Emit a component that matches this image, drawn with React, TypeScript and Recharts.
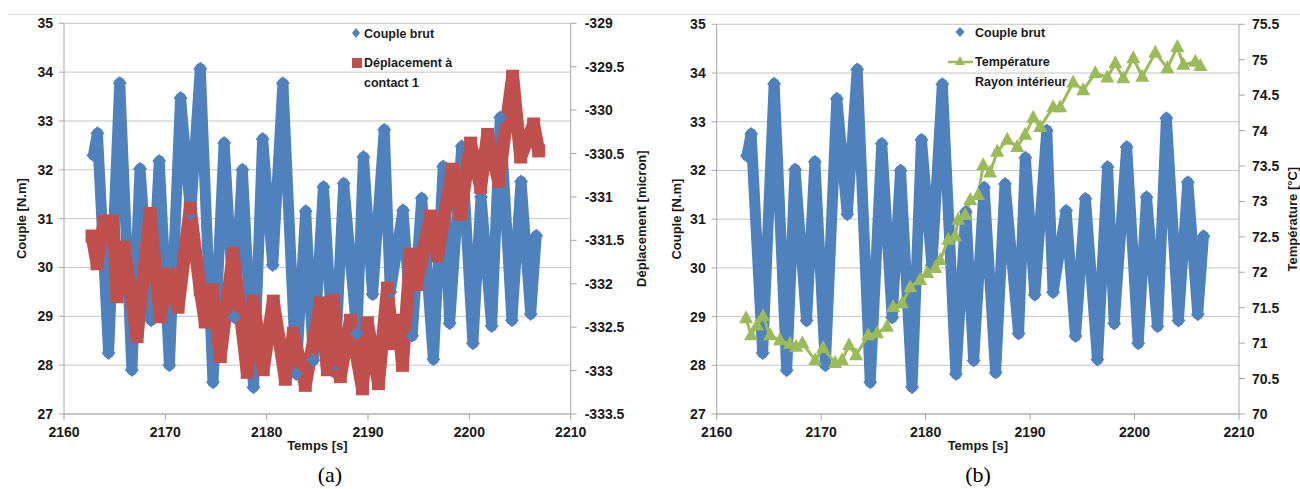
import { CartesianGrid, ComposedChart, Legend, Line, XAxis, YAxis } from "recharts";

const BLUE = "#4F81BD";
const RED = "#C0504D";
const GREEN = "#9BBB59";
const GRID = "#c4c4c4";
const AXIS = "#a6a6a6";
const FONT = "'Liberation Sans', Arial, sans-serif";

const timeTicks = [2160, 2170, 2180, 2190, 2200, 2210];
const coupleTicks = [27, 28, 29, 30, 31, 32, 33, 34, 35];
const depTicks = [-333.5, -333, -332.5, -332, -331.5, -331, -330.5, -330, -329.5, -329];
const tempTicks = [70, 70.5, 71, 71.5, 72, 72.5, 73, 73.5, 74, 74.5, 75, 75.5];

// couple brut [N.m], extremes of each oscillation
const coupleT = [
  2162.9, 2163.3, 2164.4, 2165.5, 2166.7, 2167.5, 2168.6, 2169.4, 2170.4, 2171.5,
  2172.5, 2173.45, 2174.7, 2175.8, 2176.8, 2177.6, 2178.7, 2179.6, 2180.6, 2181.6,
  2182.9, 2183.85, 2184.6, 2185.6, 2186.7, 2187.6, 2188.9, 2189.55, 2190.45, 2191.6,
  2192.2, 2193.45, 2194.35, 2195.3, 2196.45, 2197.42, 2198.05, 2199.25, 2200.35, 2201.15,
  2202.2, 2203.05, 2204.2, 2205.1, 2206.05, 2206.6,
];
const coupleV = [
  32.3, 32.75, 28.25, 33.78, 27.9, 32.02, 28.92, 32.18, 28.0, 33.47,
  31.1, 34.07, 27.65, 32.55, 28.98, 32.0, 27.55, 32.63, 30.05, 33.77,
  27.82, 31.15, 28.1, 31.65, 27.85, 31.72, 28.65, 32.26, 29.45, 32.82,
  29.5, 31.17, 28.6, 31.42, 28.12, 32.07, 28.86, 32.48, 28.45, 31.45,
  28.8, 33.07, 28.92, 31.76, 29.05, 30.65,
];

// déplacement à contact 1 [micron]
const depT = [
  2162.77, 2163.26, 2163.95, 2164.84, 2165.24, 2165.93, 2167.21, 2168.5, 2169.49, 2170.28,
  2171.26, 2172.45, 2173.44, 2173.93, 2174.62, 2175.42, 2176.7, 2178.08, 2178.68, 2179.66,
  2180.65, 2181.84, 2182.63, 2183.81, 2185.3, 2185.99, 2186.58, 2187.27, 2188.26, 2189.45,
  2189.94, 2191.03, 2191.92, 2192.41, 2193.0, 2193.4, 2194.19, 2194.78, 2196.17, 2196.86,
  2198.34, 2199.13, 2200.12, 2201.11, 2201.8, 2202.88, 2204.27, 2205.06, 2206.34, 2206.84,
];
const depV = [
  -331.45, -331.77, -331.28, -331.28, -332.15, -331.58, -332.61, -331.19, -332.38, -331.89,
  -332.27, -331.13, -332.07, -332.44, -332.07, -332.84, -331.65, -333.02, -332.2, -332.99,
  -332.2, -333.1, -332.57, -333.17, -332.22, -332.99, -332.19, -333.07, -332.42, -333.21,
  -332.45, -333.15, -332.05, -332.69, -332.42, -332.94, -331.66, -332.01, -331.22, -331.68,
  -330.68, -331.2, -330.38, -330.89, -330.28, -330.82, -329.61, -330.54, -330.16, -330.47,
];

// température rayon intérieur [°C]
const tempT = [
  2162.81, 2163.29, 2163.86, 2164.43, 2165.11, 2166.06, 2167.02, 2167.6, 2168.2, 2169.42,
  2170.18, 2171.33, 2172.0, 2172.67, 2173.34, 2174.49, 2175.35, 2176.31, 2176.89, 2177.75,
  2178.52, 2179.48, 2180.15, 2180.92, 2181.39, 2182.16, 2182.83, 2183.12, 2183.79, 2184.27,
  2185.03, 2185.51, 2186.18, 2186.85, 2187.81, 2188.77, 2189.53, 2190.3, 2190.97, 2192.21,
  2192.88, 2194.13, 2195.09, 2196.24, 2197.39, 2198.16, 2198.92, 2199.88, 2200.74, 2201.99,
  2203.14, 2204.1, 2204.67, 2205.82, 2206.3,
];
const tempV = [
  71.35, 71.11, 71.25, 71.38, 71.11, 71.04, 70.99, 70.95, 71.0, 70.76,
  70.93, 70.72, 70.76, 70.97, 70.83, 71.11, 71.14, 71.23, 71.51, 71.56,
  71.79, 71.89, 71.99, 72.06, 72.17, 72.46, 72.51, 72.74, 72.81, 73.02,
  73.09, 73.51, 73.41, 73.7, 73.87, 73.77, 73.94, 74.18, 74.05, 74.33,
  74.33, 74.68, 74.57, 74.81, 74.75, 74.95, 74.74, 75.02, 74.76, 75.1,
  74.88, 75.18, 74.93, 74.97, 74.91,
];

const coupleData = coupleT.map((t, i) => ({ t, v: coupleV[i] }));
const depData = depT.map((t, i) => ({ t, v: depV[i] }));
const tempData = tempT.map((t, i) => ({ t, v: tempV[i] }));

const tickStyle = { fontSize: 14, fontWeight: 700, fill: "#1a1a1a", fontFamily: FONT };
const titleStyle = { fontSize: 13, fontWeight: 700, fill: "#1a1a1a", fontFamily: FONT, textAnchor: "middle" as const };

function diamondDot(props: any) {
  const { cx, cy, index } = props;
  if (cx == null || cy == null) return <g key={index} />;
  const s = 7;
  return (
    <path
      key={index}
      d={`M${cx},${cy - s}L${cx + s},${cy}L${cx},${cy + s}L${cx - s},${cy}Z`}
      fill={BLUE}
    />
  );
}

function squareDot(props: any) {
  const { cx, cy, index } = props;
  if (cx == null || cy == null) return <g key={index} />;
  return <rect key={index} x={cx - 6.5} y={cy - 6.5} width={13} height={13} fill={RED} />;
}

function triangleDot(props: any) {
  const { cx, cy, index } = props;
  if (cx == null || cy == null) return <g key={index} />;
  return (
    <path key={index} d={`M${cx},${cy - 8}L${cx + 7},${cy + 5}L${cx - 7},${cy + 5}Z`} fill={GREEN} />
  );
}

const legendText = { fontSize: 12.5, fontWeight: 700, fill: "#1a1a1a", fontFamily: FONT };

function LegendA() {
  return (
    <svg width={200} height={100} style={{ overflow: "visible" }}>
      <path d="M356,28L360,33L356,38L352,33Z" fill={BLUE} />
      <text x={364} y={37.5} {...legendText}>Couple brut</text>
      <rect x={352} y={58} width={10} height={10} fill={RED} />
      <text x={364} y={67} {...legendText}>Déplacement à</text>
      <text x={364} y={87} {...legendText}>contact 1</text>
    </svg>
  );
}

function LegendB() {
  return (
    <svg width={200} height={100} style={{ overflow: "visible" }}>
      <path d="M310,27L314.5,32L310,37L305.5,32Z" fill={BLUE} />
      <text x={325} y={36.5} {...legendText}>Couple brut</text>
      <line x1={298} y1={62} x2={323} y2={62} stroke={GREEN} strokeWidth={2.5} />
      <path d="M310,56L315,65L305,65Z" fill={GREEN} />
      <text x={325} y={66} {...legendText}>Température</text>
      <text x={325} y={86} {...legendText}>Rayon intérieur</text>
    </svg>
  );
}

export default function App() {
  return (
    <div style={{ position: "absolute", left: 0, top: 0, width: 1300, height: 489, background: "#fff", fontFamily: FONT }}>
      <div style={{ position: "absolute", left: 8, top: 14, width: 1292, height: 1, background: "#dcdcdc" }} />

      <div style={{ position: "absolute", left: 0, top: 0 }}>
        <ComposedChart width={650} height={460} margin={{ top: 23.3, right: 3.3, bottom: 6, left: 8 }}>
          <CartesianGrid yAxisId="left" vertical={false} stroke={GRID} />
          <XAxis
            type="number"
            dataKey="t"
            domain={[2160, 2210]}
            ticks={timeTicks}
            height={40}
            stroke={AXIS}
            tickSize={6}
            tickMargin={7}
            tick={tickStyle}
            label={{ value: "Temps [s]", position: "insideBottom", offset: 4, style: titleStyle }}
          />
          <YAxis
            yAxisId="left"
            domain={[27, 35]}
            ticks={coupleTicks}
            width={56}
            stroke={AXIS}
            tickSize={5}
            tickMargin={6}
            tick={tickStyle}
            label={{ value: "Couple [N.m]", angle: -90, position: "insideLeft", offset: 13.5, style: titleStyle }}
          />
          <YAxis
            yAxisId="right"
            orientation="right"
            domain={[-333.5, -329]}
            ticks={depTicks}
            width={76}
            stroke={AXIS}
            tickSize={6}
            tickMargin={8}
            tick={{ ...tickStyle, textAnchor: "start" }}
            label={{ value: "Déplacement [micron]", angle: -90, position: "insideRight", offset: 5.2, style: titleStyle }}
          />
          <Line
            yAxisId="left"
            data={coupleData}
            dataKey="v"
            stroke={BLUE}
            strokeWidth={11}
            strokeLinejoin="round"
            strokeLinecap="round"
            dot={diamondDot}
            isAnimationActive={false}
          />
          <Line
            yAxisId="right"
            data={depData}
            dataKey="v"
            stroke={RED}
            strokeWidth={13}
            strokeLinejoin="bevel"
            dot={squareDot}
            isAnimationActive={false}
          />
          <Legend
            layout="vertical"
            align="center"
            verticalAlign="middle"
            content={() => <LegendA />}
            wrapperStyle={{ left: 0, top: 0, width: 200, height: 100 }}
          />
        </ComposedChart>
      </div>

      <div style={{ position: "absolute", left: 650, top: 0 }}>
        <ComposedChart width={650} height={460} margin={{ top: 24.3, right: 3, bottom: 6, left: 8 }}>
          <CartesianGrid yAxisId="left" vertical={false} stroke={GRID} />
          <XAxis
            type="number"
            dataKey="t"
            domain={[2160, 2210]}
            ticks={timeTicks}
            height={40}
            stroke={AXIS}
            tickSize={6}
            tickMargin={7}
            tick={tickStyle}
            label={{ value: "Temps [s]", position: "insideBottom", offset: 4, style: titleStyle }}
          />
          <YAxis
            yAxisId="left"
            domain={[27, 35]}
            ticks={coupleTicks}
            width={58.7}
            stroke={AXIS}
            tickSize={5}
            tickMargin={6}
            tick={tickStyle}
            label={{ value: "Couple [N.m]", angle: -90, position: "insideLeft", offset: 18.5, style: titleStyle }}
          />
          <YAxis
            yAxisId="right"
            orientation="right"
            domain={[70, 75.5]}
            ticks={tempTicks}
            width={58}
            stroke={AXIS}
            tickSize={6}
            tickMargin={7}
            tick={{ ...tickStyle, textAnchor: "start" }}
            label={{ value: "Température [°C]", angle: -90, position: "insideRight", offset: 5, style: titleStyle }}
          />
          <Line
            yAxisId="left"
            data={coupleData}
            dataKey="v"
            stroke={BLUE}
            strokeWidth={11}
            strokeLinejoin="round"
            strokeLinecap="round"
            dot={diamondDot}
            isAnimationActive={false}
          />
          <Line
            yAxisId="right"
            data={tempData}
            dataKey="v"
            stroke={GREEN}
            strokeWidth={3}
            dot={triangleDot}
            isAnimationActive={false}
          />
          <Legend
            layout="vertical"
            align="center"
            verticalAlign="middle"
            content={() => <LegendB />}
            wrapperStyle={{ left: 0, top: 0, width: 200, height: 100 }}
          />
        </ComposedChart>
      </div>

      <div style={{ position: "absolute", left: 280, width: 100, top: 462, textAlign: "center", fontFamily: "'Liberation Serif', serif", fontSize: 22 }}>
        (a)
      </div>
      <div style={{ position: "absolute", left: 928, width: 100, top: 462, textAlign: "center", fontFamily: "'Liberation Serif', serif", fontSize: 22 }}>
        (b)
      </div>
    </div>
  );
}
